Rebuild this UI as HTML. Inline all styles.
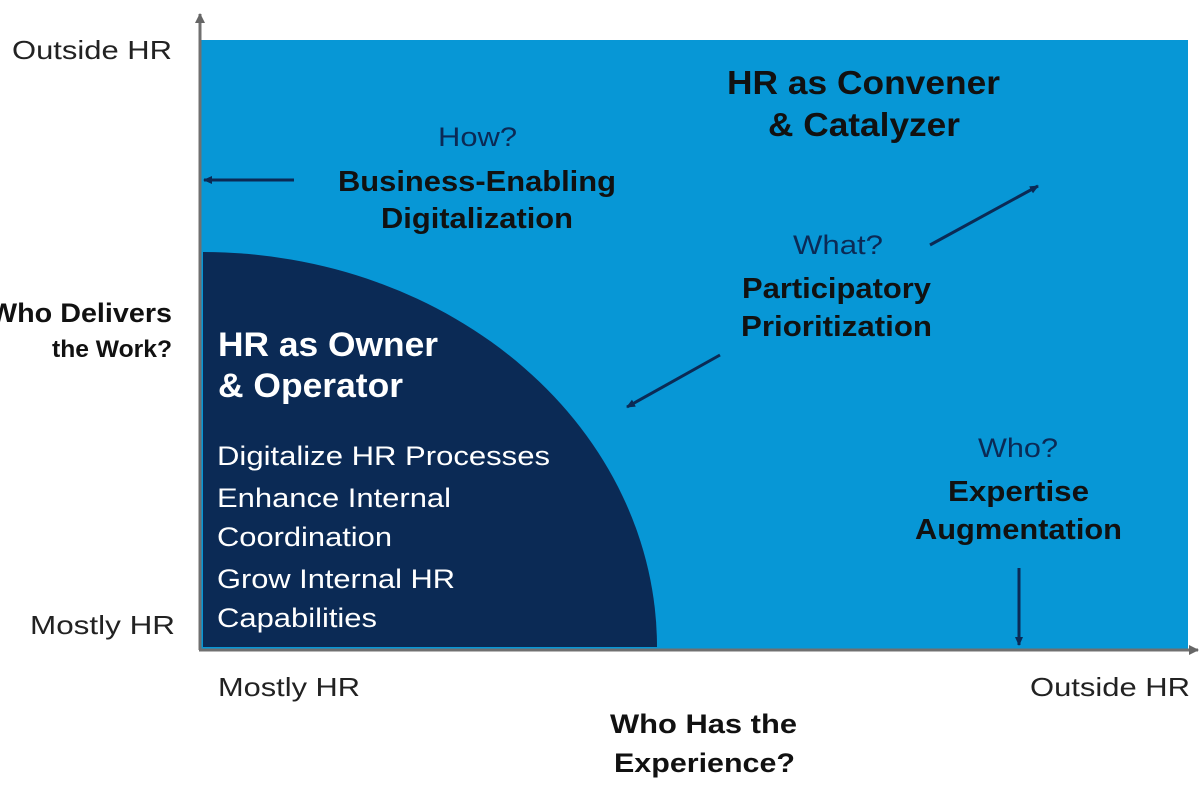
<!DOCTYPE html>
<html><head><meta charset="utf-8"><style>
html,body{margin:0;padding:0;background:#fff;width:1200px;height:800px;overflow:hidden}
svg{display:block}
text{font-family:"Liberation Sans",Arial,sans-serif}
</style></head><body>
<svg width="1200" height="800" viewBox="0 0 1200 800" xmlns="http://www.w3.org/2000/svg">
<defs>
<marker id="ah" markerWidth="10" markerHeight="10" refX="8" refY="5" orient="auto" markerUnits="userSpaceOnUse"><path d="M0,1 L9,5 L0,9 z" fill="#0b2a55"/></marker>
<marker id="ag" markerWidth="12" markerHeight="12" refX="9" refY="6" orient="auto" markerUnits="userSpaceOnUse"><path d="M0,1 L10,6 L0,11 z" fill="#666"/></marker>
</defs>
<rect x="201" y="40" width="987" height="609" fill="#0797d6"/>
<path d="M203,647 L203,252 A454,395 0 0 1 657,647 Z" fill="#0b2a55"/>
<line x1="200" y1="650" x2="200" y2="14" stroke="#707070" stroke-width="3" marker-end="url(#ag)"/>
<line x1="199" y1="650" x2="1198" y2="650" stroke="#707070" stroke-width="3" marker-end="url(#ag)"/>
<g fill="#222" font-size="26">
<text x="12" y="59" textLength="160" lengthAdjust="spacingAndGlyphs">Outside HR</text>
<text x="30" y="634" textLength="145" lengthAdjust="spacingAndGlyphs">Mostly HR</text>
<text x="218" y="696" textLength="142" lengthAdjust="spacingAndGlyphs">Mostly HR</text>
<text x="1030" y="696" textLength="160" lengthAdjust="spacingAndGlyphs">Outside HR</text>
</g>
<g fill="#111" font-size="27" font-weight="bold">
<text x="-10" y="322" textLength="182" lengthAdjust="spacingAndGlyphs">Who Delivers</text>
<text x="52" y="357" font-size="24" textLength="120" lengthAdjust="spacingAndGlyphs">the Work?</text>
<text x="610" y="733" textLength="187" lengthAdjust="spacingAndGlyphs">Who Has the</text>
<text x="614" y="772" textLength="181" lengthAdjust="spacingAndGlyphs">Experience?</text>
</g>
<g fill="#111" font-size="33" font-weight="bold">
<text x="727" y="94" textLength="273" lengthAdjust="spacingAndGlyphs">HR as Convener</text>
<text x="768" y="136" textLength="192" lengthAdjust="spacingAndGlyphs">&amp; Catalyzer</text>
</g>
<g fill="#0b2a55" font-size="27">
<text x="438" y="146" textLength="79" lengthAdjust="spacingAndGlyphs">How?</text>
<text x="793" y="254" textLength="90" lengthAdjust="spacingAndGlyphs">What?</text>
<text x="978" y="457" textLength="80" lengthAdjust="spacingAndGlyphs">Who?</text>
</g>
<g fill="#111" font-size="29" font-weight="bold">
<text x="338" y="191" textLength="278" lengthAdjust="spacingAndGlyphs">Business-Enabling</text>
<text x="381" y="228" textLength="192" lengthAdjust="spacingAndGlyphs">Digitalization</text>
<text x="742" y="298" textLength="189" lengthAdjust="spacingAndGlyphs">Participatory</text>
<text x="741" y="336" textLength="191" lengthAdjust="spacingAndGlyphs">Prioritization</text>
<text x="948" y="501" textLength="141" lengthAdjust="spacingAndGlyphs">Expertise</text>
<text x="915" y="539" textLength="207" lengthAdjust="spacingAndGlyphs">Augmentation</text>
</g>
<g fill="#fff">
<text x="218" y="356" font-size="34" font-weight="bold" textLength="220" lengthAdjust="spacingAndGlyphs">HR as Owner</text>
<text x="218" y="397" font-size="34" font-weight="bold" textLength="185" lengthAdjust="spacingAndGlyphs">&amp; Operator</text>
<text x="217" y="465" font-size="27" textLength="333" lengthAdjust="spacingAndGlyphs">Digitalize HR Processes</text>
<text x="217" y="507" font-size="27" textLength="234" lengthAdjust="spacingAndGlyphs">Enhance Internal</text>
<text x="217" y="546" font-size="27" textLength="175" lengthAdjust="spacingAndGlyphs">Coordination</text>
<text x="217" y="588" font-size="27" textLength="238" lengthAdjust="spacingAndGlyphs">Grow Internal HR</text>
<text x="217" y="627" font-size="27" textLength="160" lengthAdjust="spacingAndGlyphs">Capabilities</text>
</g>
<g stroke="#0b2a55" stroke-width="3" fill="none">
<line x1="294" y1="180" x2="204" y2="180" marker-end="url(#ah)"/>
<line x1="930" y1="245" x2="1038" y2="186" marker-end="url(#ah)"/>
<line x1="720" y1="355" x2="627" y2="407" marker-end="url(#ah)"/>
<line x1="1019" y1="568" x2="1019" y2="645" marker-end="url(#ah)"/>
</g>
</svg>
</body></html>
